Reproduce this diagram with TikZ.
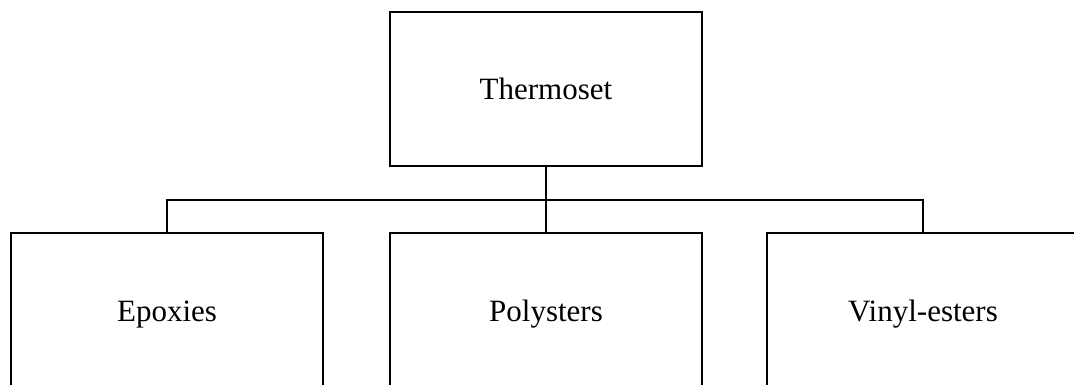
\documentclass[tikz,border=0pt]{standalone}
\usepackage{fontspec}
\setmainfont{Liberation Serif}
\begin{document}
\begin{tikzpicture}[x=1pt,y=-1pt,
  catbox/.style={draw=black,line width=2.2pt,fill=white,minimum width=312pt,minimum height=154pt,
    inner sep=0pt,text height=22pt,text depth=0pt,font=\fontsize{31}{37}\selectfont},
  link/.style={draw=black,line width=2.2pt}]
  \useasboundingbox (0,0) rectangle (1074,385);
  \clip (0,0) rectangle (1074,385);
  % root class
  \node[catbox] (root) at (546,89) {Thermoset};
  % sub-classes
  \node[catbox] (epox) at (167,310) {Epoxies};
  \node[catbox] (poly) at (546,310) {Polysters};
  \node[catbox] (viny) at (923,310) {Vinyl-esters};
  % tree connectors
  \coordinate (bus) at (546,200);
  \draw[link] (root.south) -- (poly.north);
  \draw[link] (epox.north) -- (epox.north |- bus) -- (viny.north |- bus) -- (viny.north);
\end{tikzpicture}
\end{document}
